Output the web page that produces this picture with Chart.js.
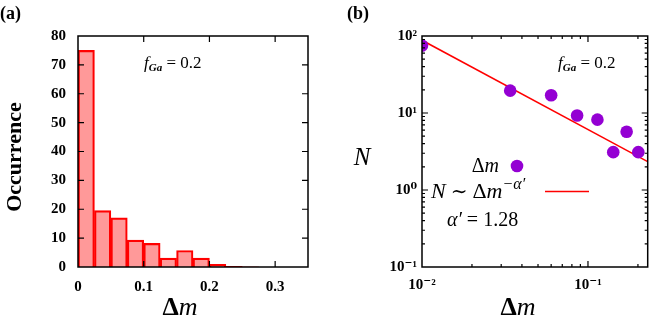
<!DOCTYPE html>
<html lang="en">
<head>
<meta charset="UTF-8">
<title>Delta m distribution</title>
<script src="https://cdn.jsdelivr.net/npm/chart.js@4"></script>
<style>
  body { margin: 0; background: #fff; }
  #wrap { position: relative; width: 654px; height: 316px; overflow: hidden; }
  canvas { position: absolute; top: 0; }
</style>
</head>
<body>
<div id="wrap">
  <canvas id="chartA" width="327" height="316" style="left:0"></canvas>
  <canvas id="chartB" width="327" height="316" style="left:327px"></canvas>
</div>
<script>
// (a) histogram of delta m
const binCentres = [0.0125, 0.0375, 0.0625, 0.0875, 0.1125, 0.1375, 0.1625, 0.1875, 0.2125, 0.2375, 0.2625];
const occurrence = [75, 19.5, 17, 9.3, 8.2, 3.1, 5.7, 3.1, 0.9, 0.25, 0.1];
const histXTicks = [0, 0.1, 0.2, 0.3];
const histYTicks = [0, 10, 20, 30, 40, 50, 60, 70, 80];

// (b) log-log N vs delta m, with power-law fit
const dmValues = [0.01, 0.034, 0.06, 0.086, 0.114, 0.142, 0.171, 0.201];
const nValues = [75, 19.5, 17, 9.3, 8.2, 3.1, 5.7, 3.1];
const fitDm = [0.01, 0.229];
const fitN = [88, 2.33];
const logXTicks = [0.01, 0.1];
const logYTicks = [0.1, 1, 10, 100];

const SERIF = "'Liberation Serif', 'DejaVu Serif', serif";
const sup = { '-': '\u207B', '0': '\u2070', '1': '\u00B9', '2': '\u00B2' };
function powLabel(v) {
    const e = String(Math.round(Math.log10(v)));
    return '10' + e.split('').map(c => sup[c]).join('');
}

// draws a run of text pieces [text, font, dy]
function textRuns(ctx, x, y, parts, align) {
    let w = 0;
    parts.forEach(p => { ctx.font = p[1]; w += ctx.measureText(p[0]).width; });
    let cx = align === 'center' ? x - w / 2 : (align === 'right' ? x - w : x);
    ctx.textAlign = 'left';
    ctx.textBaseline = 'alphabetic';
    ctx.fillStyle = '#000';
    parts.forEach(p => {
        ctx.font = p[1];
        ctx.fillText(p[0], cx, y + (p[2] || 0));
        cx += ctx.measureText(p[0]).width;
    });
}

// box + inward ticks on all four sides
const framePlugin = {
    id: 'frame',
    afterDatasetsDraw(chart, args, opts) {
        const { ctx, chartArea: a } = chart;
        const xs = chart.scales.x, ys = chart.scales.y;
        ctx.save();
        ctx.strokeStyle = '#000';
        ctx.lineWidth = 1.5;
        ctx.strokeRect(a.left, a.top, a.right - a.left, a.bottom - a.top);
        ctx.lineWidth = 1.2;
        const xt = (vals, len) => vals.forEach(v => {
            const px = xs.getPixelForValue(v);
            if (px <= a.left + 1 || px >= a.right - 1) return;
            ctx.beginPath();
            ctx.moveTo(px, a.bottom); ctx.lineTo(px, a.bottom - len);
            ctx.moveTo(px, a.top); ctx.lineTo(px, a.top + len);
            ctx.stroke();
        });
        const yt = (vals, len) => vals.forEach(v => {
            const py = ys.getPixelForValue(v);
            if (py <= a.top + 1 || py >= a.bottom - 1) return;
            ctx.beginPath();
            ctx.moveTo(a.left, py); ctx.lineTo(a.left + len, py);
            ctx.moveTo(a.right, py); ctx.lineTo(a.right - len, py);
            ctx.stroke();
        });
        if (opts.log) {
            const minor = (sc) => {
                const out = [];
                for (let n = Math.floor(Math.log10(sc.min)); n <= Math.ceil(Math.log10(sc.max)); n++) {
                    for (let k = 2; k <= 9; k++) {
                        const v = k * Math.pow(10, n);
                        if (v > sc.min && v < sc.max) out.push(v);
                    }
                }
                return out;
            };
            xt(minor(xs), 3);
            yt(minor(ys), 3);
        }
        xt(opts.xMajor, 6);
        yt(opts.yMajor, 6);
        ctx.restore();
    }
};

const tickFont = { family: SERIF, size: 15, weight: 'bold' };

function fGaLabel(ctx, x, y) {
    textRuns(ctx, x, y, [
        ['f', 'italic 17px ' + SERIF],
        ['Ga', 'italic bold 11px ' + SERIF, 3],
        [' = 0.2', '17px ' + SERIF]
    ], 'left');
}

// ---------- (a) ----------
const annotA = {
    id: 'annotA',
    afterDraw(chart) {
        const ctx = chart.ctx;
        ctx.save();
        textRuns(ctx, 0, 19, [['(a)', 'bold 18px ' + SERIF]], 'left');
        fGaLabel(ctx, 144, 68);
        textRuns(ctx, 180, 315, [
            ['\u0394', 'bold 26px ' + SERIF],
            ['m', 'italic 26px ' + SERIF]
        ], 'center');
        ctx.translate(15, 157);
        ctx.rotate(-Math.PI / 2);
        ctx.font = 'bold 22px ' + SERIF;
        ctx.textAlign = 'center';
        ctx.textBaseline = 'middle';
        ctx.fillStyle = '#000';
        ctx.fillText('Occurrence', 0, 0);
        ctx.restore();
    }
};

new Chart(document.getElementById('chartA'), {
    type: 'bar',
    data: {
        datasets: [{
            data: binCentres.map((x, i) => ({ x: x, y: occurrence[i] })),
            backgroundColor: 'rgba(255, 0, 0, 0.4)',
            borderColor: '#ff0000',
            borderWidth: 1.5,
            barPercentage: 1,
            categoryPercentage: 1,
            grouped: false
        }]
    },
    options: {
        responsive: false,
        animation: false,
        layout: { padding: { top: 36, right: 19, left: 0, bottom: 0 } },
        plugins: {
            legend: { display: false },
            tooltip: { enabled: false },
            frame: { xMajor: histXTicks, yMajor: histYTicks }
        },
        scales: {
            x: {
                type: 'linear', min: 0, max: 0.35, offset: false,
                grid: { display: false, drawTicks: false, offset: false },
                border: { display: false },
                afterBuildTicks: s => { s.ticks = histXTicks.map(v => ({ value: v })); },
                afterFit: s => { s.height = 49; },
                ticks: { font: tickFont, color: '#000', padding: 11, maxRotation: 0,
                         callback: v => v === 0 ? '0' : String(v) }
            },
            y: {
                min: 0, max: 80,
                grid: { display: false, drawTicks: false },
                border: { display: false },
                afterBuildTicks: s => { s.ticks = histYTicks.map(v => ({ value: v })); },
                afterFit: s => { s.width = 78; },
                ticks: { font: tickFont, color: '#000', padding: 12 }
            }
        }
    },
    plugins: [framePlugin, annotA]
});

// ---------- (b) ----------
const annotB = {
    id: 'annotB',
    afterDraw(chart) {
        const ctx = chart.ctx;
        const pts = chart.data.datasets[0], fit = chart.data.datasets[1];
        ctx.save();
        textRuns(ctx, 20, 19, [['(b)', 'bold 18px ' + SERIF]], 'left');
        fGaLabel(ctx, 231, 68);
        textRuns(ctx, 191, 315, [
            ['\u0394', 'bold 26px ' + SERIF],
            ['m', 'italic 26px ' + SERIF]
        ], 'center');
        textRuns(ctx, 35, 165, [['N', 'italic 25px ' + SERIF]], 'center');
        // legend
        textRuns(ctx, 172, 172, [
            ['\u0394', '20px ' + SERIF],
            ['m', 'italic 20px ' + SERIF]
        ], 'right');
        ctx.fillStyle = pts.backgroundColor;
        ctx.beginPath();
        ctx.arc(190, 166, 6.3, 0, Math.PI * 2);
        ctx.fill();
        textRuns(ctx, 104, 198, [
            ['N', 'italic 22px ' + SERIF],
            [' \u223C ', '20px ' + SERIF],
            ['\u0394', '22px ' + SERIF],
            ['m', 'italic 22px ' + SERIF],
            ['\u2212\u03B1\u2032', 'italic 16px ' + SERIF, -9]
        ], 'left');
        ctx.strokeStyle = fit.borderColor;
        ctx.lineWidth = 1.5;
        ctx.beginPath();
        ctx.moveTo(218, 191.5);
        ctx.lineTo(262, 191.5);
        ctx.stroke();
        textRuns(ctx, 120, 226, [
            ['\u03B1\u2032', 'italic 20px ' + SERIF],
            [' = 1.28', '20px ' + SERIF]
        ], 'left');
        ctx.restore();
    }
};

new Chart(document.getElementById('chartB'), {
    type: 'scatter',
    data: {
        datasets: [{
            data: dmValues.map((x, i) => ({ x: x, y: nValues[i] })),
            backgroundColor: '#9400d3',
            borderWidth: 0,
            pointRadius: 6.3
        }, {
            type: 'line',
            data: fitDm.map((x, i) => ({ x: x, y: fitN[i] })),
            borderColor: '#ff0000',
            borderWidth: 1.5,
            pointRadius: 0,
            fill: false
        }]
    },
    options: {
        responsive: false,
        animation: false,
        layout: { padding: { top: 36, right: 1, left: 0, bottom: 0 } },
        plugins: {
            legend: { display: false },
            tooltip: { enabled: false },
            frame: { log: true, xMajor: logXTicks, yMajor: logYTicks }
        },
        scales: {
            x: {
                type: 'logarithmic', min: 0.01, max: 0.229,
                grid: { display: false, drawTicks: false },
                border: { display: false },
                afterBuildTicks: s => { s.ticks = logXTicks.map(v => ({ value: v })); },
                afterFit: s => { s.height = 49; },
                ticks: { font: tickFont, color: '#000', padding: 9, maxRotation: 0, callback: v => powLabel(v) }
            },
            y: {
                type: 'logarithmic', min: 0.1, max: 100,
                grid: { display: false, drawTicks: false },
                border: { display: false },
                afterBuildTicks: s => { s.ticks = logYTicks.map(v => ({ value: v })); },
                afterFit: s => { s.width = 95; },
                ticks: { font: tickFont, color: '#000', padding: 5, callback: v => powLabel(v) }
            }
        }
    },
    plugins: [framePlugin, annotB]
});
</script>
</body>
</html>
